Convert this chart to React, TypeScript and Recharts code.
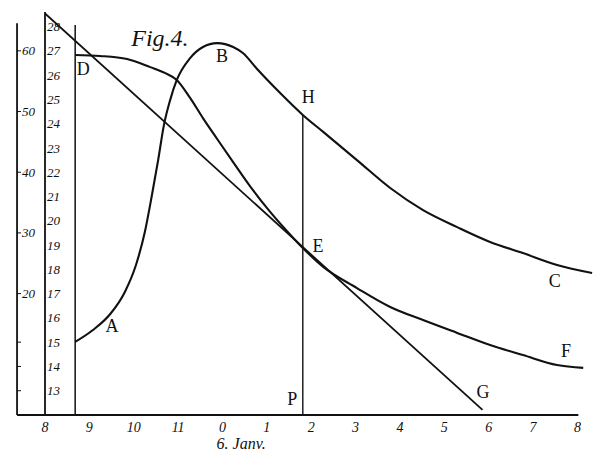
import { LineChart, Line, XAxis, YAxis, ReferenceLine, ReferenceDot } from "recharts";

// hours counted from 8 a.m. (0) to 8 p.m. (12)
const hourTicks = [0, 1, 2, 3, 4, 5, 6, 7, 8, 9, 10, 11, 12];
const hourLabels = ["8", "9", "10", "11", "0", "1", "2", "3", "4", "5", "6", "7", "8"];
const innerTicks = [13, 14, 15, 16, 17, 18, 19, 20, 21, 22, 23, 24, 25, 26, 27, 28];
const outerTicks = [1, 2, 3, 4, 5, 6, 7, 8, 9, 10, 11, 12, 20, 30, 40, 50, 60];
const outerLabels = [10, 20, 30, 40, 50, 60];

// [hour, inner scale value]
const curveABHC: [number, number][] = [
  [0.68, 15.01], [1.08, 15.5], [1.47, 16.16], [1.8, 17.07], [2.05, 18.18],
  [2.25, 19.54], [2.41, 21.06], [2.55, 22.5], [2.68, 23.94], [2.82, 24.97],
  [2.97, 25.8], [3.27, 26.7], [3.56, 27.16], [3.88, 27.32], [4.24, 27.16],
  [4.46, 26.91], [4.78, 26.25], [5.3, 25.26], [5.81, 24.36], [6.27, 23.66],
  [7.03, 22.5], [7.78, 21.35], [8.52, 20.44], [9.29, 19.74], [10.03, 19.13],
  [10.77, 18.67], [11.54, 18.18], [12.33, 17.85],
];
const curveDEF: [number, number][] = [
  [0.68, 26.83], [1.24, 26.79], [1.85, 26.66], [2.37, 26.33], [2.7, 26.09],
  [2.97, 25.8], [3.27, 25.06], [3.56, 24.23], [3.88, 23.37], [4.24, 22.42],
  [4.62, 21.43], [5.0, 20.53], [5.41, 19.66], [5.81, 18.88], [6.27, 18.1],
  [7.03, 17.23], [7.78, 16.45], [8.52, 15.91], [9.29, 15.38], [10.03, 14.88],
  [10.77, 14.47], [11.54, 14.06], [12.13, 13.94],
];
const lineDG: [number, number][] = [[0, 28.54], [9.86, 12.21]];

const ordinateAD = 0.68;
const ordinateP = 5.81;
const outerAxisAt = -0.63;

const letters: { text: string; h: number; v: number; size: number; italic?: boolean }[] = [
  { text: "Fig.4.", h: 2.59, v: 27.53, size: 24, italic: true },
  { text: "D", h: 0.86, v: 26.25, size: 18 },
  { text: "A", h: 1.51, v: 15.67, size: 18 },
  { text: "B", h: 3.99, v: 26.79, size: 18 },
  { text: "H", h: 5.93, v: 25.1, size: 18 },
  { text: "E", h: 6.15, v: 18.96, size: 18 },
  { text: "C", h: 11.49, v: 17.52, size: 18 },
  { text: "F", h: 11.74, v: 14.64, size: 18 },
  { text: "G", h: 9.87, v: 12.95, size: 18 },
  { text: "P", h: 5.57, v: 12.66, size: 18 },
  { text: "6. Janv.", h: 4.42, v: 10.83, size: 16, italic: true },
];

const toPts = (arr: [number, number][]) => arr.map(([h, v]) => ({ h, v }));

const FONT = "'Liberation Serif', 'DejaVu Serif', serif";
const INK = "#111";

const HourTick = (p: any) => (
  <text x={p.x} y={p.y + 17} textAnchor="middle" fontFamily={FONT} fontStyle="italic" fontSize={14} fill={INK}>
    {hourLabels[p.payload.value]}
  </text>
);

const InnerTick = (p: any) => (
  <text x={p.x + 2} y={p.y} dy="0.35em" textAnchor="start" fontFamily={FONT} fontStyle="italic" fontSize={13} fill={INK}>
    {p.payload.value}
  </text>
);

const OuterTick = (p: any) => (
  <g>
    <line x1={p.x} x2={p.x + 4} y1={p.y} y2={p.y} stroke={INK} strokeWidth={1} />
    {outerLabels.includes(p.payload.value) && (
      <text x={p.x + 5} y={p.y} dy="0.35em" textAnchor="start" fontFamily={FONT} fontStyle="italic" fontSize={13} fill={INK}>
        {p.payload.value}
      </text>
    )}
  </g>
);

export default function App() {
  return (
    <div style={{ position: "absolute", left: 0, top: 0, width: 595, height: 454, background: "#fff" }}>
      <LineChart width={595} height={454} margin={{ top: 12, right: 2, bottom: 9, left: 0 }}>
        <XAxis
          type="number"
          dataKey="h"
          domain={[0, 12.35]}
          ticks={hourTicks}
          tick={<HourTick />}
          axisLine={false}
          tickLine={false}
          tickSize={0}
          tickMargin={0}
          height={30}
          allowDataOverflow
        />
        <YAxis
          yAxisId="in"
          type="number"
          domain={[12, 28.6]}
          ticks={innerTicks}
          tick={<InnerTick />}
          axisLine={{ stroke: INK, strokeWidth: 1.8 }}
          tickLine={false}
          tickSize={0}
          tickMargin={0}
          width={28}
          allowDataOverflow
        />
        <YAxis
          yAxisId="out"
          type="number"
          domain={[0, 66.4]}
          ticks={outerTicks}
          tick={<OuterTick />}
          axisLine={false}
          tickLine={false}
          tickSize={0}
          tickMargin={0}
          width={17}
          allowDataOverflow
        />

        <ReferenceLine
          yAxisId="in"
          segment={[{ x: outerAxisAt, y: 12 }, { x: outerAxisAt, y: 28.14 }]}
          stroke={INK}
          strokeWidth={1.8}
          ifOverflow="visible"
        />
        <ReferenceLine
          yAxisId="in"
          segment={[{ x: outerAxisAt, y: 12 }, { x: 12.02, y: 12 }]}
          stroke={INK}
          strokeWidth={1.8}
          ifOverflow="visible"
        />
        <ReferenceLine
          yAxisId="in"
          segment={[{ x: ordinateAD, y: 12 }, { x: ordinateAD, y: 28.06 }]}
          stroke={INK}
          strokeWidth={1.5}
          ifOverflow="visible"
        />
        <ReferenceLine
          yAxisId="in"
          segment={[{ x: ordinateP, y: 12 }, { x: ordinateP, y: 24.36 }]}
          stroke={INK}
          strokeWidth={1.4}
          ifOverflow="visible"
        />

        <Line yAxisId="in" data={toPts(lineDG)} dataKey="v" type="linear" stroke={INK} strokeWidth={1.8} dot={false} isAnimationActive={false} />
        <Line yAxisId="in" data={toPts(curveABHC)} dataKey="v" type="monotone" stroke={INK} strokeWidth={2.1} dot={false} isAnimationActive={false} />
        <Line yAxisId="in" data={toPts(curveDEF)} dataKey="v" type="monotone" stroke={INK} strokeWidth={2.1} dot={false} isAnimationActive={false} />

        {letters.map((l) => (
          <ReferenceDot
            key={l.text}
            yAxisId="in"
            x={l.h}
            y={l.v}
            r={0}
            fill="none"
            stroke="none"
            ifOverflow="visible"
            label={{
              value: l.text,
              position: "center",
              fill: INK,
              fontSize: l.size,
              fontFamily: FONT,
              fontStyle: l.italic ? "italic" : "normal",
            }}
          />
        ))}
      </LineChart>
    </div>
  );
}
